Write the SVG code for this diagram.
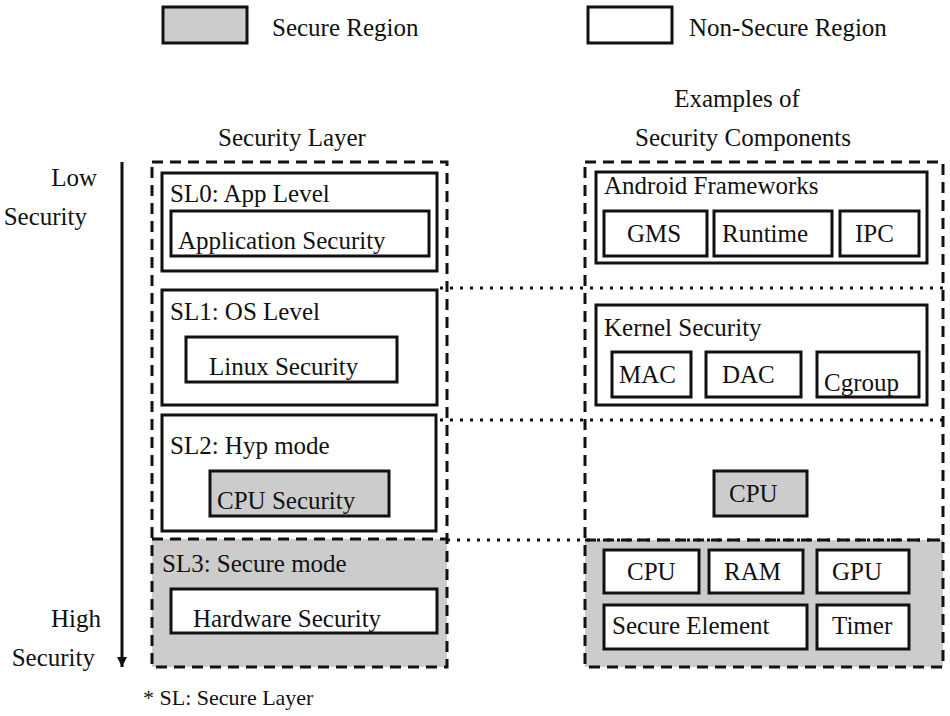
<svg xmlns="http://www.w3.org/2000/svg" width="950" height="716" viewBox="0 0 950 716">
<style>
text{font-family:"Liberation Serif","Times New Roman",serif;font-size:25px;fill:#111}
.box{fill:#fff;stroke:#111;stroke-width:3}
.sec{fill:#cccccc;stroke:#111;stroke-width:3}
.dash{fill:none;stroke:#111;stroke-width:3;stroke-dasharray:11 7}
.dot{fill:none;stroke:#111;stroke-width:3;stroke-dasharray:3 7}
.gray{fill:#cccccc;stroke:none}
.small{font-size:22px}
.mid{text-anchor:middle}
.end{text-anchor:end}
</style>
<defs>
<marker id="ah" viewBox="0 0 10 12" refX="10" refY="6" markerWidth="10" markerHeight="12" markerUnits="userSpaceOnUse" orient="auto">
<path d="M0,1 L10,6 L0,11 Z" fill="#111"/>
</marker>
</defs>
<rect width="950" height="716" fill="#fff"/>

<g id="legend">
<rect class="sec" x="163" y="7" width="84" height="36"/>
<text x="272" y="36">Secure Region</text>
<rect class="box" x="588" y="7" width="84" height="36"/>
<text x="689" y="36">Non-Secure Region</text>
</g>

<g id="headers">
<text class="mid" x="292" y="146">Security Layer</text>
<text class="mid" x="737" y="107">Examples of</text>
<text class="mid" x="743" y="146">Security Components</text>
</g>

<g id="axis-labels">
<text class="end" x="97" y="186">Low</text>
<text class="end" x="87" y="225">Security</text>
<text class="end" x="101" y="627">High</text>
<text class="end" x="95" y="666">Security</text>
</g>

<g id="regions">
<rect class="gray" x="152" y="539" width="295" height="128"/>
<rect class="gray" x="585" y="540" width="358" height="127"/>
<rect class="dash" x="152" y="162" width="295" height="505"/>
<line class="dash" x1="152" y1="539" x2="447" y2="539"/>
<rect class="dash" x="585" y="162" width="358" height="505"/>
<line class="dash" x1="585" y1="540" x2="943" y2="540"/>
</g>

<g id="connectors">
<line x1="122" y1="162" x2="122" y2="667" stroke="#111" stroke-width="3" marker-end="url(#ah)"/>
<line class="dot" x1="440" y1="288" x2="943" y2="288"/>
<line class="dot" x1="440" y1="420" x2="943" y2="420"/>
<line class="dot" x1="447" y1="540" x2="943" y2="540"/>
</g>

<g id="sl0">
<rect class="box" x="162" y="173" width="275" height="98"/>
<text x="170" y="202">SL0: App Level</text>
<rect class="box" x="171" y="211" width="258" height="45"/>
<text x="178" y="249">Application Security</text>
</g>

<g id="sl1">
<rect class="box" x="162" y="290" width="275" height="115"/>
<text x="170" y="320">SL1: OS Level</text>
<rect class="box" x="186" y="337" width="211" height="45"/>
<text x="209" y="375">Linux Security</text>
</g>

<g id="sl2">
<rect class="box" x="162" y="415" width="274" height="116"/>
<text x="170" y="454">SL2: Hyp mode</text>
<rect class="sec" x="210" y="471" width="179" height="45"/>
<text x="217" y="509">CPU Security</text>
</g>

<g id="sl3">
<text x="162" y="572">SL3: Secure mode</text>
<rect class="box" x="171" y="589" width="266" height="44"/>
<text x="193" y="627">Hardware Security</text>
</g>

<g id="android-frameworks">
<rect class="box" x="596" y="172" width="331" height="91"/>
<text x="604" y="194">Android Frameworks</text>
<rect class="box" x="604" y="211" width="103" height="45"/>
<text x="627" y="242">GMS</text>
<rect class="box" x="714" y="211" width="118" height="45"/>
<text x="722" y="242">Runtime</text>
<rect class="box" x="840" y="211" width="79" height="45"/>
<text x="855" y="242">IPC</text>
</g>

<g id="kernel-security">
<rect class="box" x="596" y="305" width="331" height="100"/>
<text x="604" y="336">Kernel Security</text>
<rect class="box" x="612" y="352" width="79" height="45"/>
<text x="619" y="383">MAC</text>
<rect class="box" x="706" y="352" width="95" height="45"/>
<text x="722" y="383">DAC</text>
<rect class="box" x="817" y="352" width="102" height="45"/>
<text x="824" y="391">Cgroup</text>
</g>

<g id="hyp-cpu">
<rect class="sec" x="714" y="471" width="93" height="45"/>
<text x="729" y="502">CPU</text>
</g>

<g id="hardware">
<rect class="box" x="604" y="550" width="95" height="43"/>
<text x="627" y="580">CPU</text>
<rect class="box" x="709" y="550" width="94" height="43"/>
<text x="724" y="580">RAM</text>
<rect class="box" x="817" y="550" width="92" height="43"/>
<text x="832" y="580">GPU</text>
<rect class="box" x="604" y="605" width="203" height="44"/>
<text x="612" y="634">Secure Element</text>
<rect class="box" x="817" y="605" width="92" height="44"/>
<text x="832" y="634">Timer</text>
</g>

<g id="footnote">
<text class="small" x="143" y="705">* SL: Secure Layer</text>
</g>
</svg>
